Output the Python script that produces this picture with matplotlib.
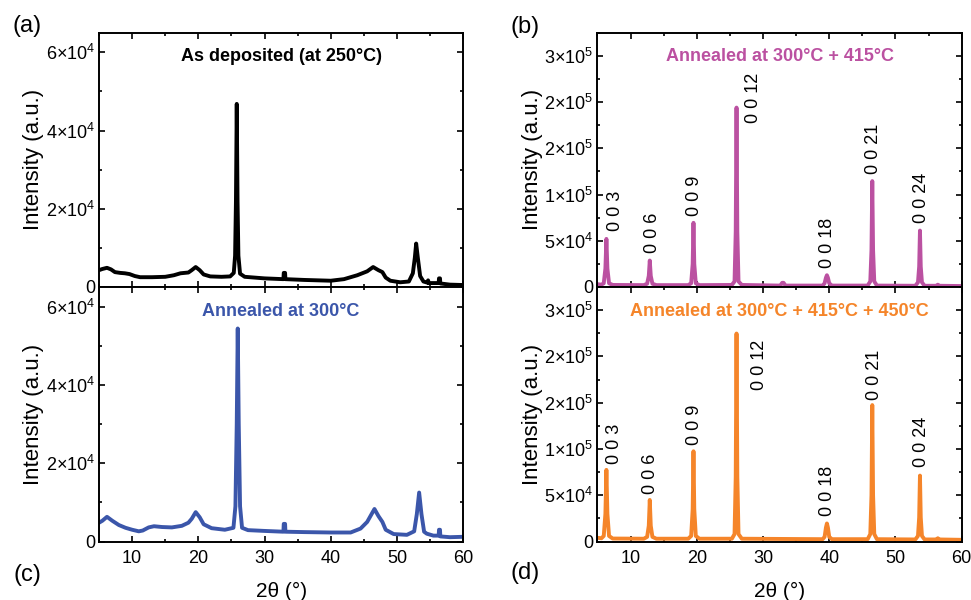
import matplotlib
matplotlib.use("Agg")
import matplotlib.pyplot as plt
from matplotlib.ticker import MultipleLocator

plt.rcParams['font.family'] = ['Liberation Sans', 'DejaVu Sans']
plt.rcParams['mathtext.fontset'] = 'custom'
plt.rcParams['mathtext.rm'] = 'Liberation Sans'
plt.rcParams['mathtext.it'] = 'Liberation Sans:italic'
plt.rcParams['mathtext.bf'] = 'Liberation Sans:bold'

# ---- data ----
# (a) as deposited
x_a = [5.0, 5.5, 6.2, 6.8, 7.4, 8.2, 8.9, 9.6, 10.4, 11.2, 13.0, 15.0, 16.3, 17.3, 18.5,
       19.0, 19.6, 20.2, 20.8, 21.8, 23.5, 24.8, 25.35, 25.55, 25.68, 25.8, 25.92, 26.05,
       26.3, 27.0, 30.0, 32.85, 32.9, 33.1, 33.15, 36.0, 40.0, 42.0, 44.0, 45.5, 46.4,
       47.2, 47.8, 48.3, 49.0, 50.5, 51.8, 52.4, 52.7, 52.9, 53.15, 53.5, 54.0, 54.6,
       54.7, 54.8, 56.3, 56.35, 56.5, 56.55, 58.0, 60.0]
y_a = [4.3e3, 4.6e3, 4.9e3, 4.5e3, 3.8e3, 3.6e3, 3.5e3, 3.3e3, 2.8e3, 2.5e3, 2.5e3, 2.6e3,
       3.0e3, 3.5e3, 3.7e3, 4.3e3, 5.1e3, 4.3e3, 3.2e3, 2.7e3, 2.6e3, 2.7e3, 3.6e3, 8e3,
       22e3, 46.8e3, 22e3, 8e3, 3.4e3, 2.6e3, 2.2e3, 2.0e3, 3.6e3, 3.6e3, 2.0e3, 1.8e3,
       1.6e3, 2.0e3, 3.0e3, 4.0e3, 5.1e3, 4.3e3, 3.8e3, 2.4e3, 1.6e3, 1.2e3, 1.4e3, 3.5e3,
       7.5e3, 11.1e3, 7.5e3, 2.8e3, 1.4e3, 1.1e3, 1.7e3, 1.0e3, 1.0e3, 2.2e3, 2.2e3, 0.9e3,
       0.6e3, 0.5e3]

# (c) annealed at 300 C
x_c = [5.0, 5.5, 6.2, 7.0, 8.0, 9.0, 10.0, 11.0, 11.6, 12.5, 13.3, 14.5, 16.0, 17.5, 18.5,
       19.0, 19.6, 20.2, 20.8, 22.0, 24.0, 25.3, 25.6, 25.8, 25.95, 26.1, 26.3, 26.6,
       27.5, 30.0, 32.85, 32.9, 33.1, 33.15, 36.0, 40.0, 43.0, 44.5, 45.5, 46.6, 47.2,
       47.8, 48.3, 49.5, 51.5, 52.6, 53.0, 53.35, 53.7, 54.1, 54.5, 55.5, 56.3, 56.35,
       56.5, 56.55, 58.0, 60.0]
y_c = [4.8e3, 5.3e3, 6.3e3, 5.3e3, 4.2e3, 3.5e3, 3.0e3, 2.6e3, 2.8e3, 3.6e3, 3.9e3, 3.7e3,
       3.6e3, 4.0e3, 4.8e3, 5.8e3, 7.5e3, 6.2e3, 4.4e3, 3.4e3, 3.0e3, 3.5e3, 9e3, 30e3,
       54.4e3, 30e3, 9e3, 3.5e3, 2.9e3, 2.7e3, 2.5e3, 4.5e3, 4.5e3, 2.5e3, 2.4e3, 2.3e3,
       2.3e3, 3.3e3, 5.0e3, 8.3e3, 6.5e3, 5.0e3, 3.0e3, 1.9e3, 1.7e3, 2.6e3, 7e3, 12.5e3,
       7e3, 2.5e3, 2.0e3, 1.5e3, 1.5e3, 3.0e3, 3.0e3, 1.3e3, 1.1e3, 1.2e3]

# (b) annealed at 300 C + 415 C
x_b = [5.0, 5.6, 5.95, 6.2, 6.35, 6.5, 6.75, 7.3, 12.0, 12.5, 12.75, 12.9, 13.05, 13.3,
       13.9, 18.7, 19.15, 19.38, 19.5, 19.62, 19.85, 20.4, 25.3, 25.7, 25.88, 26.0, 26.12,
       26.3, 26.8, 32.6, 32.9, 33.1, 33.4, 39.0, 39.3, 39.5, 39.65, 39.8, 40.0, 40.4, 45.8,
       46.2, 46.38, 46.5, 46.62, 46.8, 47.2, 53.0, 53.4, 53.58, 53.7, 53.82, 54.0, 54.4,
       56.2, 56.4, 56.6, 60.0]
y_b = [3.0e3, 2.5e3, 4e3, 20e3, 52e3, 20e3, 4e3, 2.2e3, 2.0e3, 3.5e3, 12e3, 28.6e3, 12e3,
       3.5e3, 2.0e3, 2.0e3, 4e3, 25e3, 69.4e3, 25e3, 4e3, 2.0e3, 2.2e3, 6e3, 60e3, 194e3,
       60e3, 6e3, 2.2e3, 1.5e3, 4.5e3, 4.5e3, 1.5e3, 1.5e3, 4e3, 10e3, 12.7e3, 10e3, 4e3,
       1.5e3, 1.5e3, 6e3, 40e3, 114.5e3, 40e3, 6e3, 1.5e3, 1.3e3, 5e3, 22e3, 61e3, 22e3,
       5e3, 1.3e3, 1.3e3, 2.5e3, 1.3e3, 1.0e3]

# (d) annealed at 300 C + 415 C + 450 C
x_d = [5.0, 5.6, 5.95, 6.2, 6.35, 6.5, 6.75, 7.3, 12.0, 12.5, 12.75, 12.9, 13.05, 13.3,
       13.9, 18.7, 19.15, 19.38, 19.5, 19.62, 19.85, 20.4, 25.3, 25.7, 25.88, 26.0, 26.12,
       26.3, 26.8, 39.0, 39.3, 39.5, 39.65, 39.8, 40.0, 40.4, 45.8, 46.2, 46.38, 46.5,
       46.62, 46.8, 47.2, 53.0, 53.4, 53.58, 53.7, 53.82, 54.0, 54.4, 56.2, 56.4, 56.6, 60.0]
y_d = [4.0e3, 3.5e3, 6e3, 30e3, 77.4e3, 30e3, 6e3, 3.2e3, 3.0e3, 5e3, 17e3, 44.9e3, 17e3,
       5e3, 3.0e3, 3.0e3, 6e3, 35e3, 97.5e3, 35e3, 6e3, 3.0e3, 3.0e3, 8e3, 70e3, 224.7e3,
       70e3, 8e3, 3.0e3, 2.5e3, 5e3, 15e3, 19.5e3, 15e3, 5e3, 2.5e3, 2.5e3, 8e3, 50e3,
       147.4e3, 50e3, 8e3, 2.5e3, 2.2e3, 6e3, 26e3, 71.2e3, 26e3, 6e3, 2.2e3, 2.2e3,
       3.5e3, 2.2e3, 1.8e3]

# reflections (00l) labels
hkl_labels = ['0 0 3', '0 0 6', '0 0 9', '0 0 12', '0 0 18', '0 0 21', '0 0 24']
lab_x_b = [7.7, 13.3, 19.6, 28.5, 39.7, 46.7, 53.9]
lab_y_b = [60.4e3, 36.8e3, 76.6e3, 177.7e3, 20.6e3, 121.8e3, 69.4e3]
lab_x_d = [7.5, 13.0, 19.6, 29.5, 39.8, 46.9, 53.9]
lab_y_d = [83.9e3, 51.4e3, 104.8e3, 163.3e3, 27.8e3, 153.2e3, 80.2e3]

left_ticks = [0, 2e4, 4e4, 6e4]
left_ticklabels = ['0', r'2$\times$10$^4$', r'4$\times$10$^4$', r'6$\times$10$^4$']
right_ticks = [0, 5e4, 1e5, 1.5e5, 2e5, 2.5e5]
right_ticklabels = ['0', r'5$\times$10$^4$', r'1$\times$10$^5$', r'2$\times$10$^5$',
                    r'2$\times$10$^5$', r'3$\times$10$^5$']

titles = ['As deposited (at 250°C)', 'Annealed at 300°C',
          'Annealed at 300°C + 415°C', 'Annealed at 300°C + 415°C + 450°C']
colors = ['black', '#3b56aa', '#bb51a1', '#f5852a']

fig = plt.figure(figsize=(9.71, 6.0), dpi=100)
ax_a = fig.add_axes([0.102, 0.5217, 0.375, 0.4238])
ax_c = fig.add_axes([0.102, 0.0975, 0.375, 0.4242])
ax_b = fig.add_axes([0.6153, 0.5217, 0.3751, 0.4238])
ax_d = fig.add_axes([0.6153, 0.0975, 0.3751, 0.4242])

panels = [(ax_a, x_a, y_a), (ax_c, x_c, y_c), (ax_b, x_b, y_b), (ax_d, x_d, y_d)]

for i, (ax, xs, ys) in enumerate(panels):
    ax.plot(xs, ys, color=colors[i], lw=2.8, solid_joinstyle='round')
    ax.set_xlim(5, 60)
    ax.xaxis.set_major_locator(MultipleLocator(10))
    ax.xaxis.set_minor_locator(MultipleLocator(5))
    if i < 2:
        ax.set_ylim(0, 6.5e4)
        ax.set_yticks(left_ticks)
        ax.set_yticklabels(left_ticklabels)
        ax.yaxis.set_minor_locator(MultipleLocator(1e4))
    else:
        ax.set_ylim(0, 2.75e5)
        ax.set_yticks(right_ticks)
        ax.set_yticklabels(right_ticklabels)
        ax.yaxis.set_minor_locator(MultipleLocator(2.5e4))
    ax.tick_params(which='both', direction='in', top=True, right=True, labelsize=13,
                   width=1.2)
    ax.tick_params(axis='y', pad=3)
    ax.tick_params(axis='x', pad=6)
    ax.tick_params(which='major', length=4)
    ax.tick_params(which='minor', length=2)
    for s in ax.spines.values():
        s.set_linewidth(1.4)
    ax.set_ylabel('Intensity (a.u.)', fontsize=16, labelpad=1)
    ax.text(0.5, 0.905, titles[i], transform=ax.transAxes, ha='center', va='center',
            fontsize=13, fontweight='bold', color=colors[i])
    if ax in (ax_a, ax_b):
        ax.tick_params(labelbottom=False)
    else:
        ax.set_xlabel('2θ (°)', fontsize=15, labelpad=11)

for lab, lx, ly in zip(hkl_labels, lab_x_b, lab_y_b):
    ax_b.text(lx, ly, lab, rotation=90, ha='center', va='bottom', fontsize=13)
for lab, lx, ly in zip(hkl_labels, lab_x_d, lab_y_d):
    ax_d.text(lx, ly, lab, rotation=90, ha='center', va='bottom', fontsize=13)

fig.text(27.5 / 971, 1 - 26 / 600, '(a)', ha='center', va='center', fontsize=17)
fig.text(525 / 971, 1 - 26.5 / 600, '(b)', ha='center', va='center', fontsize=17)
fig.text(27 / 971, 1 - 575 / 600, '(c)', ha='center', va='center', fontsize=17)
fig.text(525 / 971, 1 - 573 / 600, '(d)', ha='center', va='center', fontsize=17)

fig.savefig('out.png', dpi=100)
